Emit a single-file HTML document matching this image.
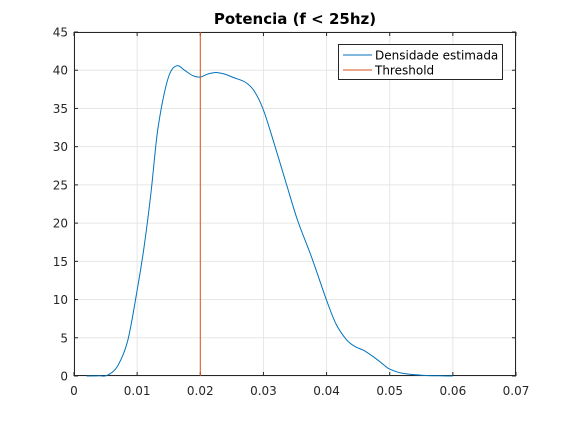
<!DOCTYPE html>
<html><head><meta charset="utf-8"><style>
body{margin:0;background:#fff;font-family:"DejaVu Sans",sans-serif;}
svg{display:block}
</style></head><body>
<svg id="chart" width="570" height="422" xmlns="http://www.w3.org/2000/svg" font-family="DejaVu Sans, sans-serif"></svg>
<script>
const xTicks=[0,0.01,0.02,0.03,0.04,0.05,0.06,0.07];
const xTickLabels=["0","0.01","0.02","0.03","0.04","0.05","0.06","0.07"];
const yTicks=[0,5,10,15,20,25,30,35,40,45];
const densX=[0.002,0.004,0.0053,0.0069,0.0085,0.010,0.0111,0.0122,0.0132,0.0143,0.0153,0.0164,0.0175,0.0188,0.020,0.0212,0.0225,0.0238,0.0254,0.0272,0.0286,0.030,0.0317,0.0336,0.0354,0.0376,0.040,0.0415,0.0431,0.0444,0.046,0.0476,0.049,0.050,0.052,0.055,0.058,0.060];
const densY=[0,0.02,0.1,1.3,4.6,11.2,16.9,24,31.8,37,39.8,40.6,40,39.3,39.1,39.5,39.7,39.5,39,38.4,37.2,34.8,30.4,25.2,20.4,15.6,9.9,6.8,4.8,3.9,3.3,2.4,1.5,0.9,0.35,0.1,0.02,0];
const threshold=[0.02];
const L=74,R=516,T=32,B=376;
const sx=v=>L+(v-0)/(0.07)*(R-L);
const sy=v=>B-(v/45)*(B-T);
const svg=document.getElementById('chart');
const NS='http://www.w3.org/2000/svg';
function mk(tag,attrs,parent){const e=document.createElementNS(NS,tag);for(const k in attrs)e.setAttribute(k,attrs[k]);(parent||svg).appendChild(e);return e;}
mk('rect',{x:L,y:T,width:R-L,height:B-T,fill:'#fff'});
xTicks.forEach((v,i)=>{
 const g=mk('line',{x1:sx(v),x2:sx(v),y1:T,y2:B,stroke:'#e6e6e6','stroke-width':1});
 
 
 mk('line',{x1:sx(v),x2:sx(v),y1:B,y2:B-4,stroke:'#262626'});
 mk('line',{x1:sx(v),x2:sx(v),y1:T,y2:T+4,stroke:'#262626'});
 const t=mk('text',{x:sx(v),y:B+19,'text-anchor':'middle','font-size':12,fill:'#262626'});
 t.textContent=xTickLabels[i];
 
 
});
yTicks.forEach(v=>{
 const g=mk('line',{x1:L,x2:R,y1:sy(v),y2:sy(v),stroke:'#e6e6e6','stroke-width':1});
 
 
 mk('line',{x1:L,x2:L+4,y1:sy(v),y2:sy(v),stroke:'#262626'});
 mk('line',{x1:R,x2:R-4,y1:sy(v),y2:sy(v),stroke:'#262626'});
 const t=mk('text',{x:L-6,y:sy(v)+4.5,'text-anchor':'end','font-size':12,fill:'#262626'});
 t.textContent=String(v);
 
 
});
const ax=mk('rect',{x:L+0.5,y:T+0.5,width:R-L-1,height:B-T-1,fill:'none',stroke:'#262626'});


const pts=densX.map((x,i)=>[sx(x),sy(densY[i])]);
let d='M'+pts[0][0].toFixed(1)+','+pts[0][1].toFixed(1);
for(let i=0;i<pts.length-1;i++){
 const p0=pts[Math.max(0,i-1)],p1=pts[i],p2=pts[i+1],p3=pts[Math.min(pts.length-1,i+2)];
 const c1=[p1[0]+(p2[0]-p0[0])/6,p1[1]+(p2[1]-p0[1])/6];
 const c2=[p2[0]-(p3[0]-p1[0])/6,p2[1]-(p3[1]-p1[1])/6];
 d+=` C${c1[0].toFixed(1)},${c1[1].toFixed(1)} ${c2[0].toFixed(1)},${c2[1].toFixed(1)} ${p2[0].toFixed(1)},${p2[1].toFixed(1)}`;
}
const line=mk('path',{d:d,fill:'none',stroke:'#0072BD','stroke-width':1,'stroke-linejoin':'round'});


threshold.forEach(v=>{
 const th=mk('line',{x1:sx(v),x2:sx(v),y1:T,y2:B,stroke:'#D95319','stroke-width':1});
 
 
});
const title=mk('text',{x:(L+R)/2,y:24,'text-anchor':'middle','font-size':15,'font-weight':'bold',fill:'#000'});
title.textContent='Potencia (f < 25hz)';


const lg=mk('g',{});


mk('rect',{x:338.5,y:44.5,width:164,height:35,fill:'#fff',stroke:'#262626'},lg);
mk('line',{x1:343,x2:372,y1:55,y2:55,stroke:'#0072BD'},lg);
mk('line',{x1:343,x2:372,y1:70,y2:70,stroke:'#D95319'},lg);
const l1=mk('text',{x:375,y:59.5,'font-size':12,fill:'#000'},lg);l1.textContent='Densidade estimada';


const l2=mk('text',{x:375,y:74.5,'font-size':12,fill:'#000'},lg);l2.textContent='Threshold';


</script>
</body></html>
